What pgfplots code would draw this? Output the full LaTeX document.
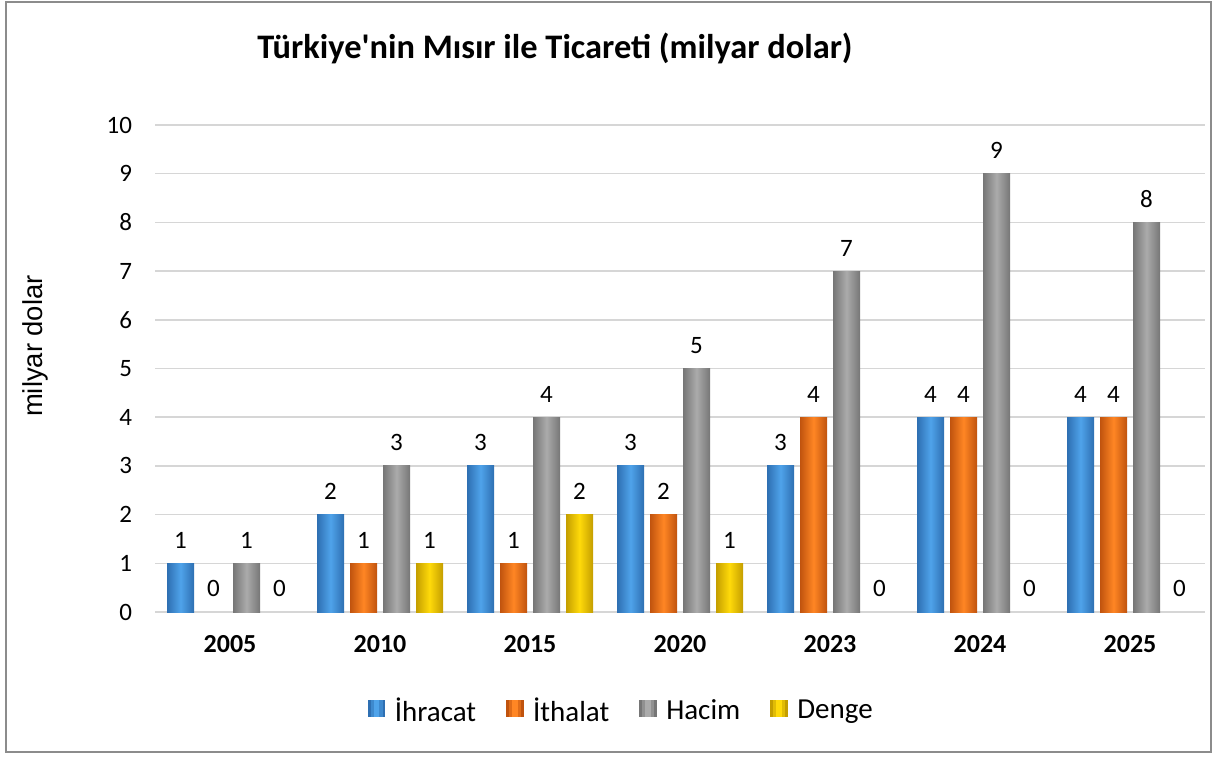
\documentclass[border=0pt]{standalone}
\usepackage{pgfplots}
\usepackage{pgfplotstable}
\pgfplotsset{compat=1.18}
\usepackage{fontspec}
\setmainfont{Carlito}
\newfontfamily\arialfont{Liberation Sans}
\definecolor{bluedk}{HTML}{2E6FB2}
\definecolor{bluelt}{HTML}{4FA3EA}
\definecolor{orgdk}{HTML}{C0530E}
\definecolor{orglt}{HTML}{FF8624}
\definecolor{graydk}{HTML}{767676}
\definecolor{graylt}{HTML}{ABABAB}
\definecolor{ylwdk}{HTML}{C49E00}
\definecolor{ylwlt}{HTML}{FFDA0A}
\definecolor{framegray}{HTML}{8C8C8C}
\pgfplotstableread{
x ihr ith hac den
0 1 0 1 0
1 2 1 3 1
2 3 1 4 2
3 3 2 5 1
4 3 4 7 0
5 4 4 9 0
6 4 4 8 0
}\data
\pgfplotsset{
  bluebar/.style={left color=bluedk, right color=bluedk, middle color=bluelt},
  orgbar/.style={left color=orgdk, right color=orgdk, middle color=orglt},
  graybar/.style={left color=graydk, right color=graydk, middle color=graylt},
  ylwbar/.style={left color=ylwdk, right color=ylwdk, middle color=ylwlt},
  legbox/.style 2 args={legend image code/.code={%
    \fill[#1, draw=none] (0pt,-3.2pt) rectangle (8.8pt,5.2pt);
    \fill[#1!50!#2, draw=none] (1.4pt,-3.2pt) rectangle (7.4pt,5.2pt);
    \fill[#2, draw=none] (3pt,-3.2pt) rectangle (5.8pt,5.2pt);
    \path[draw=none, fill=none] (0pt,0pt) -- (11.5pt,0pt);}},
}
\newcommand\barseries[3]{%
  \pgfplotsinvokeforeach{0,...,6}{%
    \addplot[ybar, bar width=13.5pt, bar shift=#2, draw=none, #3, forget plot,
      restrict x to domain=##1:##1, restrict y to domain=0.5:100]
      table[x=x, y=#1]{\data};
  }%
  \addplot[ybar, bar width=13.5pt, bar shift=#2, draw=none, fill=none, forget plot,
    nodes near coords, every node near coord/.append style={xshift=#2}] table[x=x, y=#1]{\data};
}
\begin{document}
\begin{tikzpicture}
\useasboundingbox (0,0) rectangle (608.5pt,378pt);
\draw[framegray, line width=1.2pt] (3pt,2pt) rectangle (605.5pt,377pt);
\begin{axis}[
  at={(77.5pt,72pt)}, anchor=south west,
  scale only axis, width=525pt, height=243.5pt,
  xmin=-0.5, xmax=6.5, ymin=0, ymax=10,
  xtick={0,...,6},
  xticklabels={2005,2010,2015,2020,2023,2024,2025},
  ytick={0,1,...,10},
  major tick length=0pt,
  axis line style={draw=none},
  ymajorgrids, major grid style={draw=black!16, line width=0.8pt},
  /pgf/number format/assume math mode=true,
  xticklabel style={font=\bfseries\fontsize{13}{15}\selectfont, yshift=-8pt},
  yticklabel style={font=\fontsize{12.5}{15}\selectfont, xshift=-8pt},
  ylabel={milyar dolar},
  ylabel style={font=\arialfont\fontsize{13.7}{16}\selectfont, at={(axis description cs:-0.1143,0.546)}, anchor=center, rotate=0},
  title={Türkiye\textquotesingle nin Mısır ile Ticareti (milyar dolar)},
  title style={font=\bfseries\fontsize{17.2}{20}\selectfont, at={(axis description cs:0.381,1.132)}, anchor=center},
  every node near coord/.append style={font=\fontsize{12.5}{15}\selectfont, yshift=4pt, black},
  legend columns=4,
  legend style={draw=none, font=\fontsize{14.5}{17}\selectfont, at={(axis description cs:0.445,-0.203)}, anchor=center, /tikz/every even column/.append style={column sep=13pt}},
]
\barseries{ihr}{-24.75pt}{bluebar}
\barseries{ith}{-8.25pt}{orgbar}
\barseries{hac}{8.25pt}{graybar}
\barseries{den}{24.75pt}{ylwbar}
\addlegendimage{legbox={bluedk}{bluelt}}
\addlegendimage{legbox={orgdk}{orglt}}
\addlegendimage{legbox={graydk}{graylt}}
\addlegendimage{legbox={ylwdk}{ylwlt}}
\legend{İhracat, İthalat, Hacim, Denge}
\end{axis}
\end{tikzpicture}
\end{document}
